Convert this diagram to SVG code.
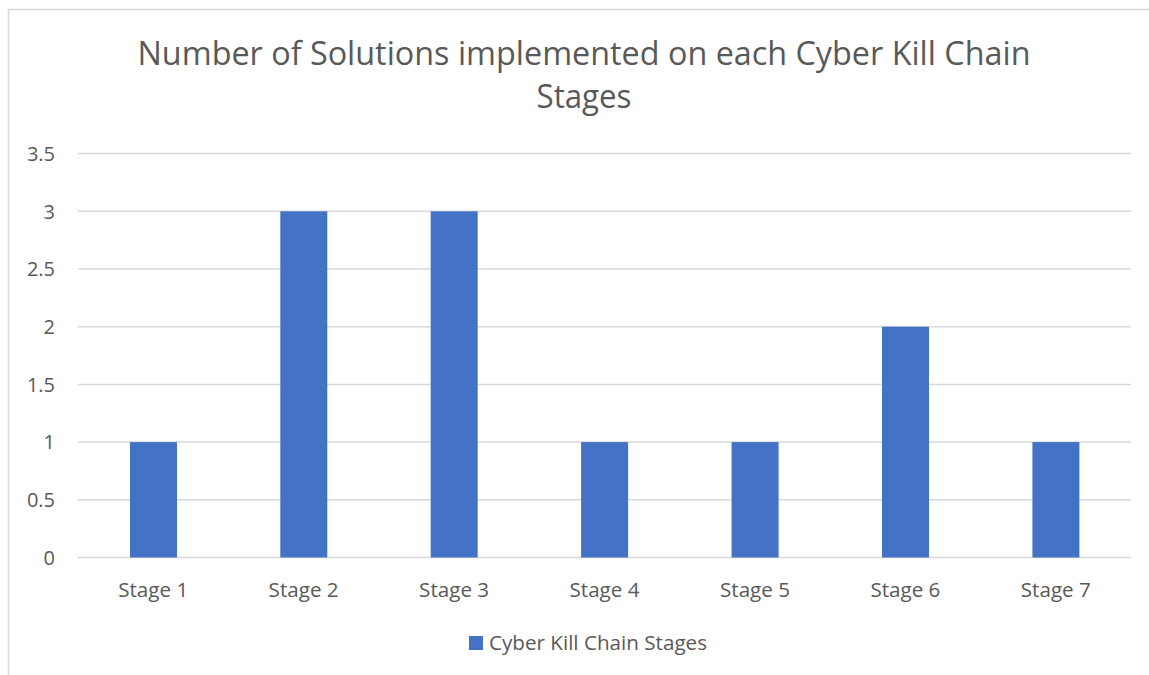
<svg xmlns="http://www.w3.org/2000/svg" width="1149" height="675" viewBox="0 0 1149 675">
<style>
text{font-family:"Open Sans","Liberation Sans",sans-serif;fill:#595959}
.grid{stroke:#d9d9d9;stroke-width:1.5}
.bar{fill:#4472c4}
.ax{font-size:20px;text-anchor:end}
.cat{font-size:20px;text-anchor:middle}
</style>
<rect x="0" y="0" width="1149" height="675" fill="#ffffff"/>
<path d="M8.5 675 V9.5 H1149" fill="none" stroke="#d9d9d9" stroke-width="1.5"/>
<g id="title">
<text x="584" y="65" font-size="32" text-anchor="middle" textLength="893" lengthAdjust="spacingAndGlyphs">Number of Solutions implemented on each Cyber Kill Chain</text>
<text x="584" y="108" font-size="32" text-anchor="middle" textLength="95" lengthAdjust="spacingAndGlyphs">Stages</text>
</g>
<g id="gridlines">
<line class="grid" x1="78" y1="153.5" x2="1131" y2="153.5"/>
<line class="grid" x1="78" y1="211.3" x2="1131" y2="211.3"/>
<line class="grid" x1="78" y1="269" x2="1131" y2="269"/>
<line class="grid" x1="78" y1="326.7" x2="1131" y2="326.7"/>
<line class="grid" x1="78" y1="384.4" x2="1131" y2="384.4"/>
<line class="grid" x1="78" y1="442.1" x2="1131" y2="442.1"/>
<line class="grid" x1="78" y1="499.8" x2="1131" y2="499.8"/>
<line class="grid" x1="78" y1="557.5" x2="1131" y2="557.5"/>
</g>
<g id="y-axis">
<text class="ax" x="55" y="160.7">3.5</text>
<text class="ax" x="55" y="218.5">3</text>
<text class="ax" x="55" y="276.2">2.5</text>
<text class="ax" x="55" y="333.9">2</text>
<text class="ax" x="55" y="391.6">1.5</text>
<text class="ax" x="55" y="449.3">1</text>
<text class="ax" x="55" y="507">0.5</text>
<text class="ax" x="55" y="564.7">0</text>
</g>
<g id="bars">
<rect id="bar1" class="bar" x="130" y="442.1" width="47" height="115.4"/>
<rect id="bar2" class="bar" x="280.3" y="211.3" width="47" height="346.2"/>
<rect id="bar3" class="bar" x="430.7" y="211.3" width="47" height="346.2"/>
<rect id="bar4" class="bar" x="581.1" y="442.1" width="47" height="115.4"/>
<rect id="bar5" class="bar" x="731.6" y="442.1" width="47" height="115.4"/>
<rect id="bar6" class="bar" x="882" y="326.7" width="47" height="230.8"/>
<rect id="bar7" class="bar" x="1032.4" y="442.1" width="47" height="115.4"/>
</g>
<g id="x-axis">
<text class="cat" x="153.2" y="597" textLength="70" lengthAdjust="spacingAndGlyphs">Stage 1</text>
<text class="cat" x="303.6" y="597" textLength="70" lengthAdjust="spacingAndGlyphs">Stage 2</text>
<text class="cat" x="454.1" y="597" textLength="70" lengthAdjust="spacingAndGlyphs">Stage 3</text>
<text class="cat" x="604.5" y="597" textLength="70" lengthAdjust="spacingAndGlyphs">Stage 4</text>
<text class="cat" x="755" y="597" textLength="70" lengthAdjust="spacingAndGlyphs">Stage 5</text>
<text class="cat" x="905.4" y="597" textLength="70" lengthAdjust="spacingAndGlyphs">Stage 6</text>
<text class="cat" x="1055.8" y="597" textLength="70" lengthAdjust="spacingAndGlyphs">Stage 7</text>
</g>
<g id="legend">
<rect class="bar" x="469" y="636" width="14" height="14"/>
<text x="489" y="650" font-size="20" textLength="218" lengthAdjust="spacingAndGlyphs">Cyber Kill Chain Stages</text>
</g>
</svg>
